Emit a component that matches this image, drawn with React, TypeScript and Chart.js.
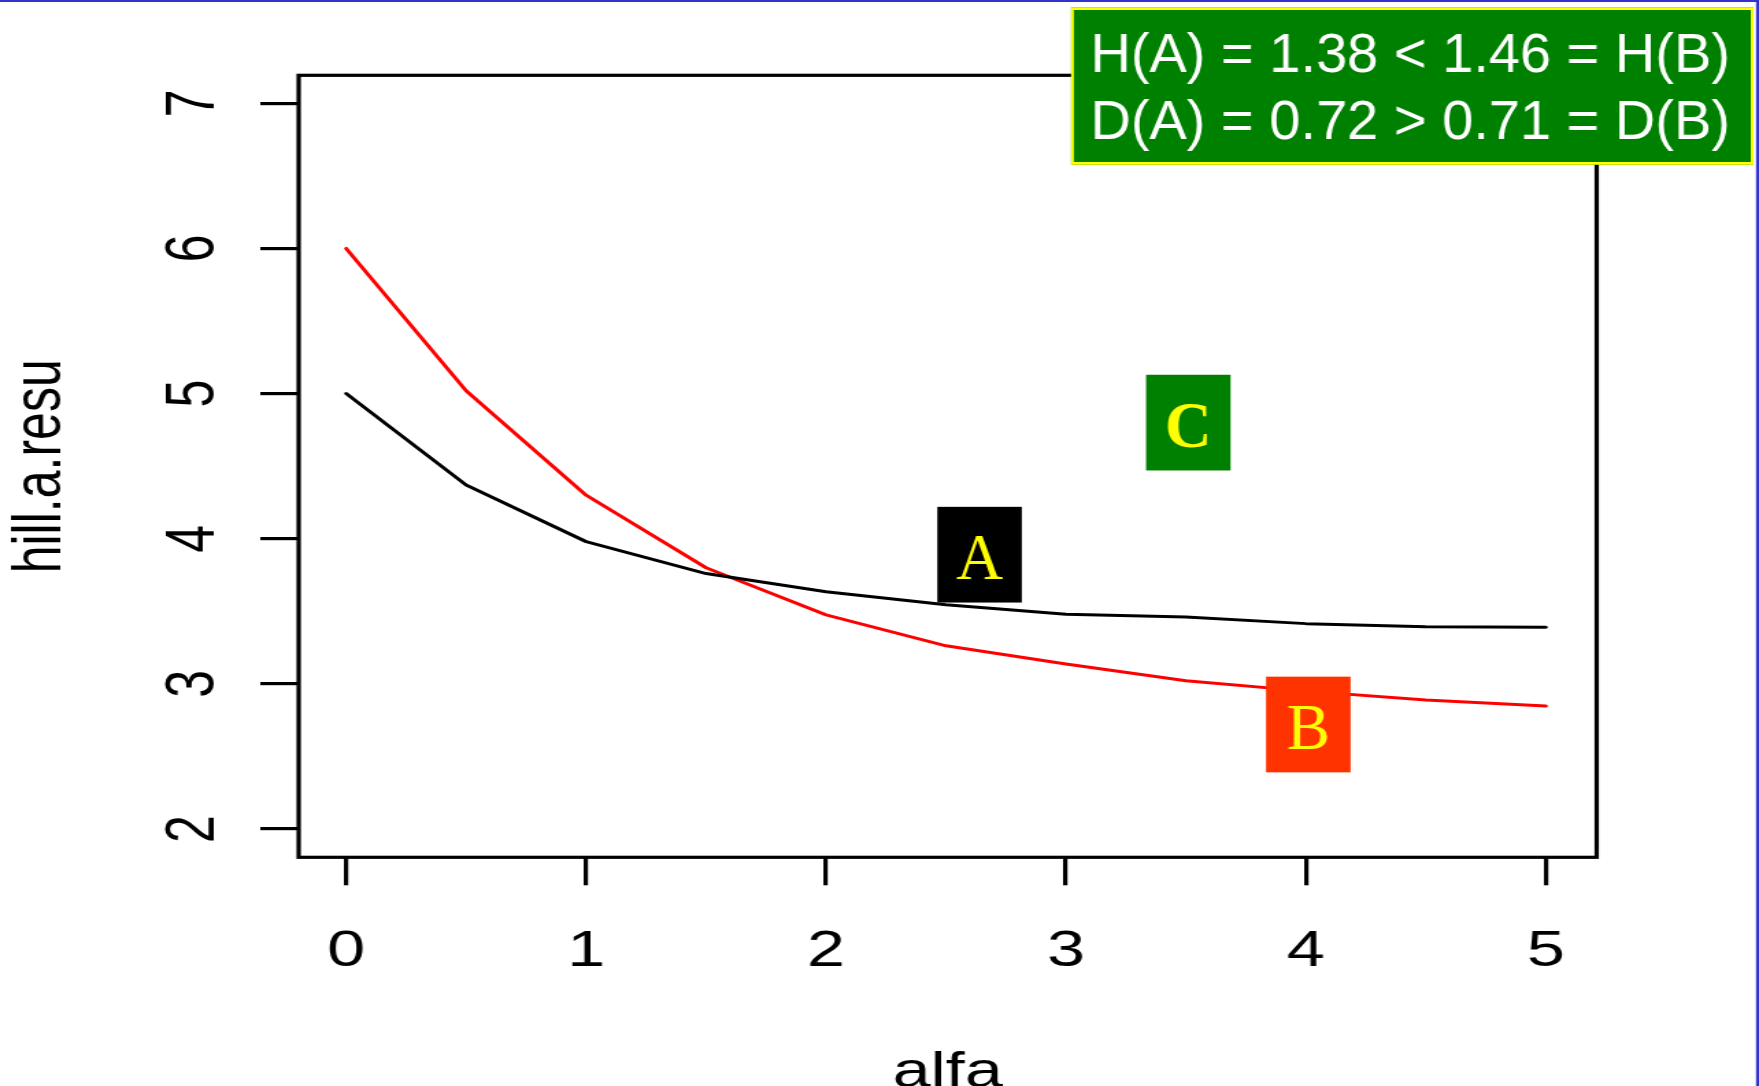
import React, { useEffect, useRef } from 'react';
import { Chart, registerables } from 'chart.js';

Chart.register(...registerables);

// ---- data ----
const ALFA = [0, 0.5, 1, 1.5, 2, 2.5, 3, 3.5, 4, 4.5, 5];
const HILL_A = [5.0, 4.37, 3.98, 3.76, 3.635, 3.545, 3.48, 3.46, 3.415, 3.394, 3.39];
const HILL_B = [6.0, 5.02, 4.3, 3.8, 3.475, 3.262, 3.137, 3.022, 2.95, 2.889, 2.847];
const X_TICKS = [0, 1, 2, 3, 4, 5];
const Y_TICKS = [2, 3, 4, 5, 6, 7];
const X_TITLE = 'alfa';
const Y_TITLE = 'hill.a.resu';
const LEGEND_LINES = ['H(A) = 1.38 < 1.46 = H(B)', 'D(A) = 0.72 > 0.71 = D(B)'];
const MARK_LABELS = ['A', 'B', 'C'];
const MARK_X = [2.64, 4.01, 3.51];
const MARK_Y = [3.89, 2.72, 4.8];

// ---- layout ----
const PAGE_W = 1759;
const PAGE_H = 1086;
const CANVAS_W = 1284; // R plot was horizontally stretched in the reference
const STRETCH = PAGE_W / CANVAS_W;
const FONT = '"Liberation Sans", Arial, Helvetica, sans-serif';
const SERIF = '"Liberation Serif", "Times New Roman", serif';

const MARK_FILL = ['#000000', '#FF3300', '#008000'];
const MARK_BOLD = [false, false, true];

const framePlugin = {
  id: 'framePlugin',
  afterDatasetsDraw(chart: any) {
    const { ctx, chartArea } = chart;
    ctx.save();
    ctx.strokeStyle = '#000000';
    ctx.lineWidth = 3.2;
    ctx.strokeRect(chartArea.left, chartArea.top, chartArea.right - chartArea.left, chartArea.bottom - chartArea.top);
    ctx.restore();
  },
  afterDraw(chart: any) {
    const { ctx, scales } = chart;
    ctx.save();
    ctx.scale(1 / STRETCH, 1);
    // marker boxes
    const bw = 84.5;
    const bh = 95.7;
    MARK_LABELS.forEach((lab, i) => {
      const cx = scales.x.getPixelForValue(MARK_X[i]) * STRETCH;
      const cy = scales.y.getPixelForValue(MARK_Y[i]);
      const left = cx - bw / 2;
      const top = cy - bh / 2;
      ctx.fillStyle = MARK_FILL[i];
      ctx.fillRect(left, top, bw, bh);
      ctx.fillStyle = '#FFFF00';
      ctx.font = `${MARK_BOLD[i] ? 'bold ' : ''}65px ${SERIF}`;
      ctx.textAlign = 'center';
      ctx.textBaseline = 'alphabetic';
      ctx.fillText(lab, cx, top + 72);
    });
    // legend box
    const lx = 1071.1;
    const ly = 7.3;
    const lw = 682.4;
    const lh = 157.4;
    ctx.fillStyle = '#008000';
    ctx.fillRect(lx, ly, lw, lh);
    ctx.strokeStyle = '#FFFF00';
    ctx.lineWidth = 2.7;
    ctx.strokeRect(lx + 1.35, ly + 1.35, lw - 2.7, lh - 2.7);
    ctx.fillStyle = '#FFFFFF';
    ctx.font = `56px ${FONT}`;
    ctx.textAlign = 'left';
    ctx.textBaseline = 'alphabetic';
    ctx.fillText(LEGEND_LINES[0], 1090.4, 71.7);
    ctx.fillText(LEGEND_LINES[1], 1090.4, 139);
    // slide frame (blue)
    ctx.fillStyle = '#3333CC';
    ctx.fillRect(0, 0, PAGE_W, 2);
    ctx.fillRect(PAGE_W - 3, 0, 3, PAGE_H);
    ctx.restore();
  },
};

export default function App() {
  const ref = useRef<HTMLCanvasElement>(null);

  useEffect(() => {
    const canvas = ref.current;
    if (!canvas) return;
    const chart = new Chart(canvas, {
      type: 'line',
      data: {
        datasets: [
          {
            label: 'A',
            data: ALFA.map((x, i) => ({ x, y: HILL_A[i] })),
            borderColor: '#000000',
            borderWidth: 3,
            pointRadius: 0,
            tension: 0,
            fill: false,
            borderCapStyle: 'round',
            borderJoinStyle: 'round',
          },
          {
            label: 'B',
            data: ALFA.map((x, i) => ({ x, y: HILL_B[i] })),
            borderColor: '#FF0000',
            borderWidth: 3,
            pointRadius: 0,
            tension: 0,
            fill: false,
            borderCapStyle: 'round',
            borderJoinStyle: 'round',
          },
        ],
      },
      options: {
        responsive: false,
        animation: false,
        devicePixelRatio: 1,
        events: [],
        layout: { padding: { left: 0, top: 75.3, right: CANVAS_W - 1165.5, bottom: 0 } },
        plugins: {
          legend: { display: false },
          tooltip: { enabled: false },
          title: { display: false },
        },
        scales: {
          x: {
            type: 'linear',
            min: -0.198,
            max: 5.212,
            afterBuildTicks: (s: any) => {
              s.ticks = X_TICKS.map((v) => ({ value: v }));
            },
            afterFit: (s: any) => {
              s.height = PAGE_H - 857.3;
            },
            grid: { drawOnChartArea: false, drawTicks: true, tickLength: 28, color: '#000000', lineWidth: 3.2 },
            border: { display: false },
            ticks: {
              autoSkip: false,
              color: '#000000',
              font: { family: FONT, size: 50 },
              padding: 36.5,
              minRotation: 0,
              maxRotation: 0,
              callback: (v: any) => String(v),
            },
            title: {
              display: true,
              text: X_TITLE,
              color: '#000000',
              font: { family: FONT, size: 50, lineHeight: 0.528 },
              padding: 0,
            },
          },
          y: {
            type: 'linear',
            min: 1.805,
            max: 7.193,
            afterBuildTicks: (s: any) => {
              s.ticks = Y_TICKS.map((v) => ({ value: v }));
            },
            afterFit: (s: any) => {
              s.width = 218;
            },
            grid: { drawOnChartArea: false, drawTicks: true, tickLength: 28, color: '#000000', lineWidth: 3.2 },
            border: { display: false },
            ticks: {
              autoSkip: false,
              color: '#000000',
              font: { family: FONT, size: 50 },
              padding: 33.6,
              minRotation: 90,
              maxRotation: 90,
              crossAlign: 'center',
              callback: (v: any) => String(v),
            },
            title: {
              display: true,
              text: Y_TITLE,
              color: '#000000',
              font: { family: FONT, size: 50, lineHeight: 1 },
              padding: { top: 5, bottom: 0 },
            },
          },
        },
      },
      plugins: [framePlugin],
    } as any);
    return () => chart.destroy();
  }, []);

  return (
    <div
      style={{
        position: 'fixed',
        left: 0,
        top: 0,
        width: PAGE_W,
        height: PAGE_H,
        overflow: 'hidden',
        background: '#ffffff',
      }}
    >
      <canvas
        ref={ref}
        width={CANVAS_W}
        height={PAGE_H}
        style={{ width: `${PAGE_W}px`, height: `${PAGE_H}px`, display: 'block' }}
      />
    </div>
  );
}
